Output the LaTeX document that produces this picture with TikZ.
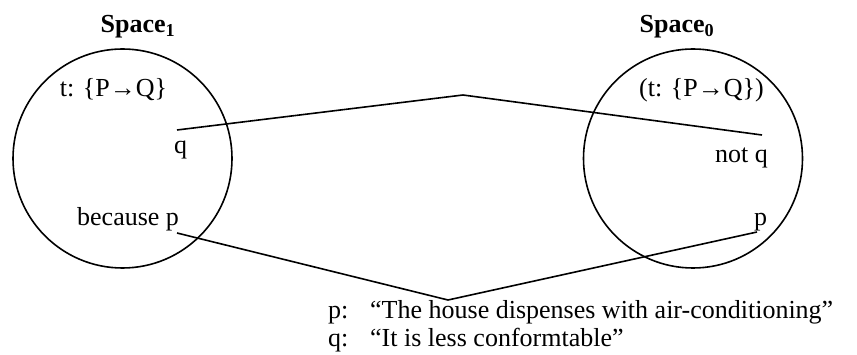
\documentclass[tikz,border=0pt]{standalone}
\usepackage{fontspec}
\setmainfont{Liberation Serif}
\begin{document}
\begin{tikzpicture}[x=1pt,y=-1pt,
  lbl/.style={inner sep=0pt,anchor=base,font=\fontsize{26}{29}\selectfont},
  ttl/.style={inner sep=0pt,anchor=base,font=\fontsize{26}{29}\selectfont\bfseries},
  space/.style={draw,line width=1.6pt,circle,minimum size=219pt,inner sep=0pt},
  link/.style={line width=1.6pt}]
\useasboundingbox (0,0) rectangle (857,355);
\node[space] (c1) at (122.5,158.5) {};
\node[space] (c0) at (693,158.5) {};
\node[ttl] (s1) at (138,33) {Space\textsubscript{1}};
\node[ttl] (s0) at (677,33) {Space\textsubscript{0}};
\node[lbl] (t1) at (113.5,97) {t: \{P→Q\}};
\node[lbl] (t0) at (701.5,97) {(t: \{P→Q\})};
\node[lbl] (q) at (180.5,154) {q};
\node[lbl] (nq) at (741.5,163) {not q};
\node[lbl,anchor=base west] (bp) at (77,226) {because p};
\node[lbl] (p) at (760.5,226) {p};
\coordinate (qa) at (177,130);
\coordinate (top) at (463,95);
\coordinate (qb) at (762,135);
\coordinate (pa) at (177,233);
\coordinate (bot) at (448,300);
\coordinate (pb) at (757,232);
\draw[link] (qa) -- (top) -- (qb);
\draw[link] (pa) -- (bot) -- (pb);
\node[lbl,anchor=base west] (pk) at (328,319) {p:};
\node[lbl,anchor=base west] (pt) at (370,319) {“The house dispenses with air-conditioning”};
\node[lbl,anchor=base west] (qk) at (328,347) {q:};
\node[lbl,anchor=base west] (qt) at (370,347) {“It is less conformtable”};
\end{tikzpicture}
\end{document}
